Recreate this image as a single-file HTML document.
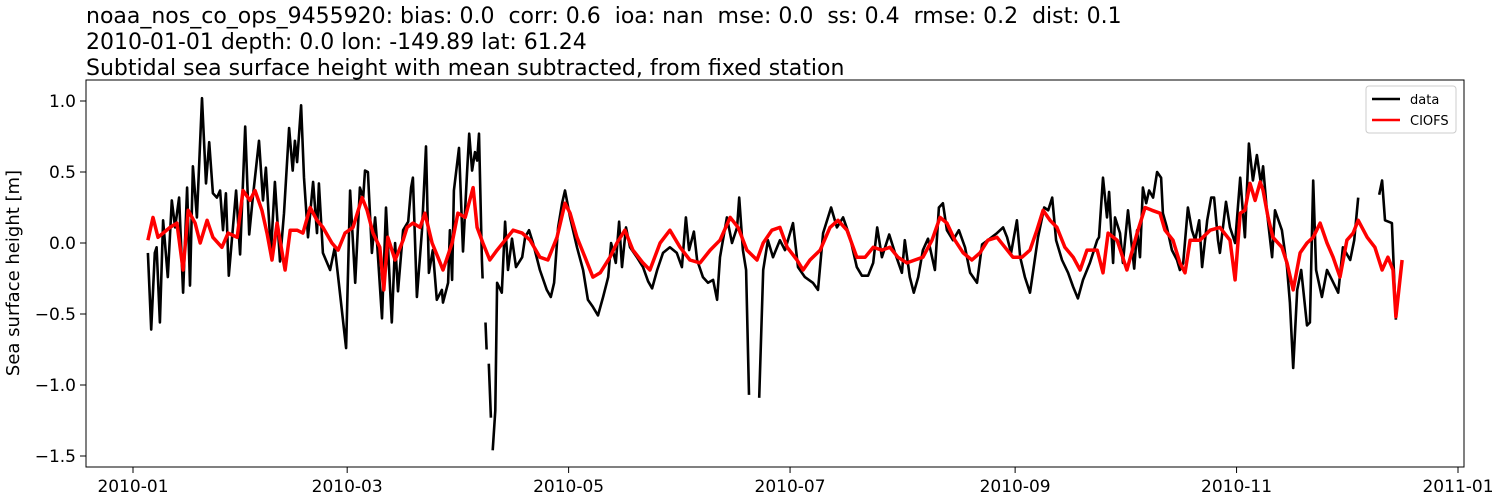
<!DOCTYPE html>
<html><head><meta charset="utf-8"><style>
body{margin:0;background:#fff;}
svg{display:block;font-family:"DejaVu Sans","Liberation Sans",sans-serif;}
text{white-space:pre;}
</style></head><body>
<svg id="chart" width="1500" height="500" viewBox="0 0 1500 500" xmlns="http://www.w3.org/2000/svg">
<g font-size="22" fill="#000">
<text x="86" y="23" xml:space="preserve">noaa_nos_co_ops_9455920: bias: 0.0  corr: 0.6  ioa: nan  mse: 0.0  ss: 0.4  rmse: 0.2  dist: 0.1</text>
<text x="86" y="49">2010-01-01 depth: 0.0 lon: -149.89 lat: 61.24</text>
<text x="86" y="75">Subtidal sea surface height with mean subtracted, from fixed station</text>
</g>
<text font-size="18" transform="translate(19,273) rotate(-90)" text-anchor="middle">Sea surface height [m]</text>
<g id="yticks"></g>
<g id="xticks"></g>
<g id="series"></g>
<rect x="86" y="80" width="1378" height="387" fill="none" stroke="#000" stroke-width="1"/>
<g>
<rect x="1366" y="86" width="90" height="47" rx="3" fill="#fff" fill-opacity="0.8" stroke="#ccc"/>
<line x1="1372" y1="99" x2="1400" y2="99" stroke="#000" stroke-width="2.5"/>
<text x="1410" y="104" font-size="13">data</text>
<line x1="1372" y1="120" x2="1400" y2="120" stroke="#f00" stroke-width="2.5"/>
<text x="1410" y="125" font-size="13">CIOFS</text>
</g>
</svg>
<script>
const yTicks=[1.0,0.5,0.0,-0.5,-1.0,-1.5];
const yTickLabels=["1.0","0.5","0.0","\u22120.5","\u22121.0","\u22121.5"];
const xTickDays=[0,59,120,181,243,304,365];
const xTickLabels=["2010-01","2010-03","2010-05","2010-07","2010-09","2010-11","2011-01"];
const dataDays=[4.1,5,6,6.5,7.4,8.3,9.6,10.7,11.6,12.7,13.8,14.9,15.7,16.5,17.6,19,20.1,21,22,23.1,24,24.8,25.6,26.4,28.4,29.5,30.9,32,33,34.7,35.8,36.6,38,39.1,40.5,41.6,43,44,44.6,45.2,46.3,47.1,48.2,49.6,50.7,51.2,52.3,54.3,55.6,56.7,58.7,59.8,61.2,62.5,63.4,63.9,64.7,65.8,66.7,67.2,68.6,69.7,71.3,72.2,73,74.4,75.8,76.6,77.1,78.2,79.6,80.7,81.5,82.6,83.7,85.1,85.4,86.8,87.3,87.9,88.4,89.8,90.9,92,92.6,93.4,94.2,94.8,95.3,96.1,96.3,96.6,97.1,97.4,97.7,98.0,98.6,98.8,99.1,99.8,100.3,101.6,102.5,103.3,104.4,105.5,107.2,108,109.1,110.2,112.1,114,115.1,116,117.1,118.2,119,120.4,122.3,124,125.3,126.7,128.1,129.5,130.9,131.7,133,133.9,134.7,135.8,136.9,138.8,140.5,141.9,143,144.4,146,147.9,149.8,151.2,152.3,153.2,154.5,155.4,157,158.4,159.8,160.9,161.7,163.6,165,166.4,167,168,168.9,169.7,171,172.5,173.6,174.9,176.3,178.2,179.6,181.8,183.2,185.1,187.3,188.7,190.1,192.3,193.9,195.6,197.5,199.4,200.8,202.5,203.9,205,206.3,208.3,209.9,211.8,212.6,214,215.1,216.3,217.6,219,220.9,222,223.1,224.2,225.9,227.5,229.2,230.6,232.5,233.9,235.5,238,239.7,240.8,241.9,243.5,244.4,245.7,247.1,247.9,249.3,251,252.1,253.2,254.3,255.9,257.6,259,260.3,261.7,263.6,265.6,266.1,267.2,268.3,268.9,270,270.5,271.9,272.7,274.1,275.8,276.6,277.4,278.2,279.1,279.9,281,282.1,283.2,283.7,284.8,286.2,287.6,288.4,289.3,290.6,291.7,292.6,293.7,294.5,295.9,297,297.8,298.9,299.4,301.1,302.2,303.6,305,306.3,307.4,308.5,309.6,310.7,311.3,312.4,313.8,314.6,316.5,317.9,318.7,319.6,320.7,321.8,323.4,324.2,325.1,325.9,327.5,328.9,330.3,332,333.3,335.3,336.4,337.5,340,343.3,344.1,344.9,346.8,347.9];
const dataValues=[-0.07,-0.61,-0.07,-0.03,-0.56,0.16,-0.24,0.30,0.11,0.32,-0.35,0.39,-0.30,0.54,0.18,1.02,0.42,0.71,0.35,0.32,0.37,0.09,0.35,-0.23,0.37,-0.08,0.82,0.06,0.32,0.72,0.30,0.53,-0.07,0.43,-0.13,0.21,0.81,0.51,0.72,0.57,0.97,0.46,0.04,0.43,0.07,0.42,-0.07,-0.19,-0.03,-0.28,-0.74,0.37,-0.28,0.39,0.32,0.51,0.50,-0.07,0.18,0.02,-0.53,0.25,-0.56,0.0,-0.34,0.09,0.15,0.39,0.46,-0.38,0.09,0.68,-0.21,-0.05,-0.40,-0.33,-0.42,-0.28,0.09,-0.26,0.37,0.67,-0.06,0.49,0.77,0.51,0.64,0.58,0.77,-0.12,-0.25,null,-0.56,-0.75,null,-0.85,-1.23,null,-1.46,-1.18,-0.28,-0.35,0.15,-0.19,0.03,-0.17,-0.10,0.04,0.09,0.0,-0.19,-0.33,-0.38,-0.28,0.11,0.28,0.37,0.18,-0.03,-0.19,-0.40,-0.45,-0.51,-0.38,-0.24,0.0,-0.14,0.15,-0.17,0.11,-0.03,-0.10,-0.17,-0.27,-0.32,-0.19,-0.07,-0.03,-0.07,-0.17,0.18,-0.05,0.08,-0.12,-0.24,-0.28,-0.26,-0.40,-0.10,0.18,0.0,0.11,0.32,-0.05,-0.19,-1.07,null,-1.09,-0.19,0.02,-0.10,0.02,-0.05,0.14,-0.17,-0.24,-0.28,-0.33,0.07,0.25,0.11,0.18,0.04,-0.17,-0.23,-0.23,-0.14,0.11,-0.10,0.06,-0.07,-0.21,0.02,-0.24,-0.35,-0.24,-0.05,0.03,-0.19,0.25,0.28,0.09,0.02,0.09,-0.03,-0.21,-0.28,-0.01,0.02,0.07,0.11,0.04,-0.07,0.16,-0.10,-0.24,-0.35,-0.21,0.04,0.25,0.23,0.32,0.02,-0.12,-0.21,-0.31,-0.39,-0.26,-0.14,0.02,0.04,0.46,0.18,0.36,-0.14,0.18,0.07,-0.14,0.23,-0.18,0.09,-0.10,0.39,0.28,0.37,0.32,0.50,0.46,0.21,0.11,-0.05,-0.12,-0.19,-0.14,0.25,0.09,0.02,0.16,-0.17,0.16,0.32,0.32,0.02,-0.07,0.29,0.11,0.0,0.46,0.04,0.70,0.44,0.62,0.42,0.54,0.21,-0.10,0.23,0.09,-0.17,-0.42,-0.88,-0.33,-0.19,-0.58,-0.56,0.44,-0.19,-0.38,-0.19,-0.26,-0.35,-0.03,-0.12,0.02,0.32,null,0.34,0.44,0.16,0.14,-0.54];
const modelDays=[4.1,5.5,6.9,8.3,10.2,12.1,13.8,15.2,17.1,18.5,20.4,22.0,24.5,26.2,28.7,30.3,32.2,33.6,35.5,36.9,38.3,39.7,41.9,43.3,45.2,46.8,48.8,50.7,52.3,54.8,56.5,58.4,60.6,63.1,64.5,66.1,68.0,69.1,70.2,72.2,74.4,75.5,77.1,79.1,80.4,82.4,84.0,85.4,87.9,89.5,91.5,93.7,94.8,96.4,98.3,100.3,102.5,104.7,107.2,109.4,112.1,114.3,116.8,119.0,120.4,122.3,124.5,126.7,128.7,131.4,133.3,135.5,137.7,140.5,142.4,145.2,147.9,150.7,153.4,156.2,159.0,161.7,164.5,166.7,169.1,171.9,173.6,176.0,178.2,180.2,182.9,184.6,186.5,189.3,192.0,194.2,196.7,199.4,201.7,203.9,206.3,208.5,210.7,213.2,215.4,217.6,220.1,222.3,224.2,226.4,228.7,231.1,233.3,235.5,238.0,240.2,242.4,244.9,247.1,249.0,250.7,252.6,254.5,256.7,259.0,260.9,262.8,265.6,267.2,268.6,271.1,273.8,276.6,278.8,280.7,282.9,284.3,286.5,288.4,289.8,291.2,293.9,296.7,299.4,302.2,303.6,305.0,306.3,307.7,309.1,310.5,311.3,312.7,314.0,316.5,317.9,319.6,321.5,323.4,325.1,327.0,328.9,330.6,332.5,334.4,336.1,337.5,340.0,342.1,344.1,345.7,347.1,347.9,349.6];
const modelValues=[0.02,0.18,0.04,0.07,0.11,0.14,-0.19,0.23,0.14,0.0,0.16,0.04,-0.03,0.07,0.04,0.37,0.30,0.37,0.23,0.07,-0.12,0.14,-0.19,0.09,0.09,0.07,0.25,0.16,0.11,0.0,-0.05,0.07,0.11,0.32,0.23,0.07,-0.03,-0.33,0.04,-0.12,0.02,0.11,0.14,0.11,0.21,0.0,-0.10,-0.19,0.0,0.21,0.18,0.39,0.11,0.0,-0.12,-0.05,0.02,0.09,0.07,0.02,-0.10,-0.12,0.04,0.28,0.21,0.04,-0.10,-0.24,-0.21,-0.10,0.0,0.09,-0.05,-0.14,-0.19,0.0,0.09,-0.03,-0.12,-0.14,-0.05,0.02,0.18,0.11,-0.05,-0.12,0.0,0.09,0.11,-0.03,-0.12,-0.19,-0.12,-0.05,0.11,0.16,0.09,-0.10,-0.10,-0.03,-0.05,-0.03,-0.10,-0.14,-0.12,-0.10,0.02,0.18,0.14,0.02,-0.07,-0.12,-0.07,0.02,0.04,-0.03,-0.10,-0.10,-0.05,0.09,0.23,0.16,0.11,-0.03,-0.10,-0.19,-0.05,-0.05,-0.21,0.07,0.02,-0.19,0.07,0.25,0.23,0.21,0.09,0.02,-0.14,-0.21,0.02,0.02,0.09,0.11,0.02,-0.26,0.21,0.23,0.42,0.30,0.43,0.37,0.18,0.04,-0.03,-0.14,-0.33,-0.07,0.0,0.04,0.14,0.0,-0.10,-0.24,0.02,0.07,0.16,0.04,-0.03,-0.19,-0.10,-0.19,-0.52,-0.12];
const NS="http://www.w3.org/2000/svg";
const L=86,R=1464,T=80,B=467;
function xScale(d){return 133+d*(1325/365);}
function yScale(v){return 243-v*142;}
function mk(tag,attrs,parent){const e=document.createElementNS(NS,tag);for(const k in attrs)e.setAttribute(k,attrs[k]);parent.appendChild(e);return e;}
const yg=document.getElementById('yticks');
yTicks.forEach((v,i)=>{const y=yScale(v);
const t=mk('line',{x1:L-6,x2:L,y1:y,y2:y,stroke:'#000'},yg);


const tx=mk('text',{x:L-10,y:y+6,'text-anchor':'end','font-size':'17'},yg);


tx.textContent=yTickLabels[i];});
const xg=document.getElementById('xticks');
xTickDays.forEach((d,i)=>{const x=xScale(d);
const t=mk('line',{x1:x,x2:x,y1:B,y2:B+6,stroke:'#000'},xg);


const tx=mk('text',{x:x,y:B+25,'text-anchor':'middle','font-size':'17'},xg);


tx.textContent=xTickLabels[i];});
function pathFor(days,vals){let d='',pen=false;for(let i=0;i<days.length;i++){const v=vals[i];if(v===null||v===undefined){pen=false;continue;}d+=(pen?'L':'M')+xScale(days[i]).toFixed(1)+','+yScale(v).toFixed(1);pen=true;}return d;}
const sg=document.getElementById('series');
const p1=mk('path',{d:pathFor(dataDays,dataValues),fill:'none',stroke:'#000','stroke-width':'2.6','stroke-linejoin':'round'},sg);


const p2=mk('path',{d:pathFor(modelDays,modelValues),fill:'none',stroke:'#f00','stroke-width':'3.5','stroke-linejoin':'round'},sg);


</script>
</body></html>
